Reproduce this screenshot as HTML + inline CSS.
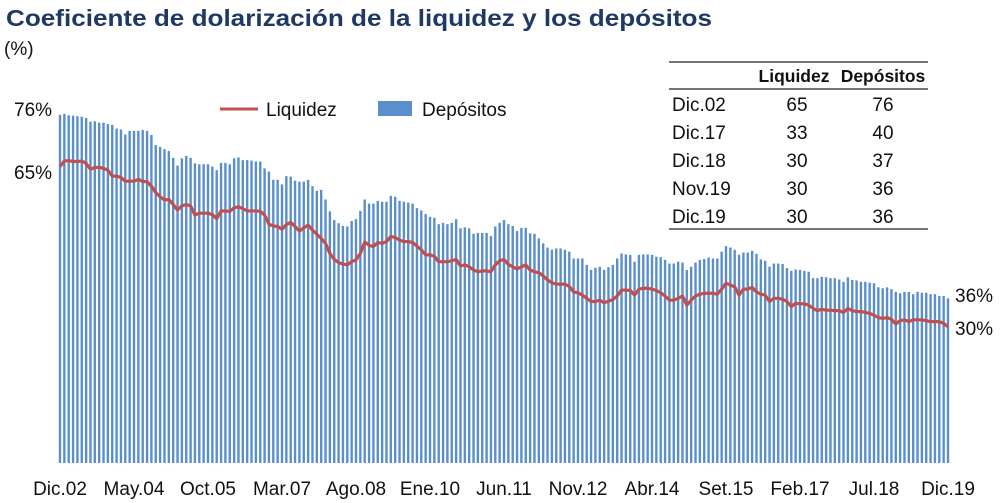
<!DOCTYPE html>
<html><head><meta charset="utf-8"><style>
body{margin:0;background:#fff;}
svg{display:block;font-family:"Liberation Sans",Arial,sans-serif;}
</style></head><body>
<svg id="chart" width="1001" height="503" viewBox="0 0 1001 503">
<text x="6" y="26" font-size="23" font-weight="bold" fill="#1f3864" textLength="706" lengthAdjust="spacingAndGlyphs">Coeficiente de dolarización de la liquidez y los depósitos</text>
<text x="4" y="55" font-size="19" fill="#111">(%)</text>
<g id="bars"></g>
<path id="liqLine" fill="none" stroke="#c0504d" stroke-width="3.2" stroke-linejoin="round"/>
<g id="xlabels"></g>
<text x="14" y="116" font-size="19" fill="#111">76%</text>
<text x="14" y="179" font-size="19" fill="#111">65%</text>
<text x="955" y="302" font-size="19" fill="#111">36%</text>
<text x="955" y="335" font-size="19" fill="#111">30%</text>
<g>
<line x1="220" y1="109" x2="258" y2="109" stroke="#c0504d" stroke-width="3"/>
<text x="266" y="116" font-size="19" fill="#111">Liquidez</text>
<rect x="378" y="101" width="34" height="15" fill="#5b8fcc"/>
<text x="422" y="116" font-size="19" fill="#111">Depósitos</text>
</g>
<g>
<rect x="666" y="60" width="266" height="172" fill="#fff"/>
<line x1="669" y1="62" x2="928" y2="62" stroke="#222" stroke-width="1.3"/>
<line x1="669" y1="89" x2="928" y2="89" stroke="#222" stroke-width="1.3"/>
<line x1="669" y1="229" x2="928" y2="229" stroke="#222" stroke-width="1.3"/>
<text x="794" y="82" font-size="17.5" font-weight="bold" text-anchor="middle" fill="#111">Liquidez</text>
<text x="883" y="82" font-size="17.5" font-weight="bold" text-anchor="middle" fill="#111">Depósitos</text>
<g id="trows" font-size="19" fill="#111"></g>
</g>
</svg>
<script>
const depositos=[76.1,76.3,76.0,75.9,75.8,75.7,75.4,74.6,74.7,74.4,
74.4,74.1,73.9,73.1,72.9,71.8,72.6,72.6,72.6,72.8,
72.6,71.7,69.5,69.1,68.6,68.2,66.7,65.0,66.6,67.1,
66.7,65.5,65.3,65.3,65.3,64.8,64.0,65.6,65.6,65.3,
66.6,66.8,66.2,66.2,66.1,65.9,65.9,64.4,63.7,61.9,
61.9,60.9,62.7,62.6,61.7,61.5,61.5,61.9,60.5,59.5,
59.7,57.6,55.0,53.1,52.4,51.8,51.7,52.9,53.3,55.1,
57.6,56.7,56.7,57.3,57.1,57.1,58.4,58.2,57.3,57.1,
56.9,56.7,55.7,55.2,54.4,53.8,53.6,52.2,52.5,52.2,
52.5,53.3,51.3,51.5,51.3,50.1,50.3,50.3,50.3,49.6,
51.7,52.5,53.1,52.2,51.8,50.7,51.4,51.4,50.2,50.1,
49.1,48.0,47.1,46.6,46.9,46.9,46.6,46.2,44.7,44.7,
44.7,43.3,42.2,42.7,42.9,42.2,42.8,43.3,44.7,
45.8,45.6,45.5,44.0,45.5,45.6,45.6,45.5,45.1,45.0,44.4,
43.6,43.6,44.0,43.8,42.2,42.9,43.8,44.4,44.6,44.9,
44.7,44.7,46.2,47.4,47.1,46.6,45.5,46.0,46.0,46.4,
45.7,44.5,44.2,42.9,43.6,43.6,43.5,42.6,42.0,42.3,
42.2,42.0,41.8,40.4,40.4,40.7,40.6,40.4,40.4,40.1,
39.6,40.6,40.0,39.9,39.6,39.6,39.4,39.3,38.4,38.2,
38.4,38.0,37.4,37.1,37.4,37.4,36.9,37.4,37.2,37.2,
36.9,36.9,36.5,36.5,36.0];
const liquidez=[64.8,66.0,66.1,65.9,65.9,66.0,65.5,64.2,64.6,64.6,
64.4,64.0,62.7,62.7,62.4,61.6,61.6,61.6,62.0,61.5,
61.5,60.5,59.1,58.2,57.5,57.6,56.5,55.3,56.2,56.5,
56.2,54.2,54.6,54.6,54.6,54.3,53.4,55.1,55.1,55.0,
55.8,56.0,55.6,55.1,55.1,55.1,55.0,54.2,52.2,51.8,
51.7,51.1,52.1,52.6,51.7,50.7,51.4,52.0,50.9,50.0,
49.1,48.0,45.8,44.5,43.8,43.5,43.3,44.0,44.4,45.8,
48.3,47.6,47.3,48.2,48.0,48.4,49.5,49.3,48.7,48.4,
48.4,48.2,47.4,46.6,45.5,45.5,45.2,44.0,44.0,44.0,
44.2,44.5,43.1,43.3,42.9,42.2,41.8,42.0,42.0,41.8,
43.3,44.2,44.5,43.4,42.9,42.4,42.9,43.3,42.2,41.8,
41.6,40.9,40.0,39.4,39.1,39.1,39.1,38.6,37.4,37.2,
36.7,36.0,35.3,35.3,35.6,35.0,35.4,35.7,36.5,
37.8,37.8,37.7,36.7,38.0,38.2,38.2,38.0,37.7,37.2,36.5,
35.6,35.6,36.0,36.5,34.5,35.6,36.5,36.9,37.1,37.1,
37.1,36.9,38.0,39.3,38.9,38.5,36.7,38.0,38.0,38.4,
37.4,36.9,36.7,35.3,36.0,36.0,35.8,35.3,34.2,34.9,
34.8,34.8,34.5,33.8,33.3,33.6,33.4,33.4,33.3,33.3,
32.9,33.8,33.3,33.1,33.1,32.9,32.7,32.3,31.8,31.6,
31.8,31.4,30.4,31.1,31.3,30.9,31.3,31.3,31.3,31.1,
30.9,30.9,30.9,30.5,29.8];
const tickLabels=["Dic.02","May.04","Oct.05","Mar.07","Ago.08","Ene.10","Jun.11","Nov.12","Abr.14","Set.15","Feb.17","Jul.18","Dic.19"];
const tickIndex=[0,17,34,51,68,85,102,119,136,153,170,187,204];
const tableRows=["Dic.02","Dic.17","Dic.18","Nov.19","Dic.19"];
const tableLiq=[65,33,30,30,30];
const tableDep=[76,40,37,36,36];

const NS="http://www.w3.org/2000/svg";
const x0=60, step=(948-60)/204, yBase=463, yScale=4.575;
function xPos(i){return x0+step*i;}
function yPos(v){return yBase-v*yScale;}

const bars=document.getElementById('bars');
depositos.forEach((v,i)=>{
  const r=document.createElementNS(NS,'rect');
  r.setAttribute('x',(xPos(i)-1.2).toFixed(2));
  r.setAttribute('y',yPos(v).toFixed(2));
  r.setAttribute('width','2.4');
  r.setAttribute('height',(yBase-yPos(v)).toFixed(2));
  r.setAttribute('fill','#5b8fcc');
  
  
  bars.appendChild(r);
});
document.getElementById('liqLine').setAttribute('d',liquidez.map((v,i)=>(i?'L':'M')+xPos(i).toFixed(2)+','+yPos(v).toFixed(2)).join(' '));

const xl=document.getElementById('xlabels');
tickLabels.forEach((t,k)=>{
  const e=document.createElementNS(NS,'text');
  e.setAttribute('x',xPos(tickIndex[k]).toFixed(1));
  e.setAttribute('y','495');
  e.setAttribute('font-size','19');
  e.setAttribute('text-anchor','middle');
  e.setAttribute('fill','#111');
  
  
  e.textContent=t;
  xl.appendChild(e);
});
const tr=document.getElementById('trows');
tableRows.forEach((t,k)=>{
  const y=111+k*28;
  [[672,t,'start'],[797,tableLiq[k],'middle'],[883,tableDep[k],'middle']].forEach(c=>{
    const e=document.createElementNS(NS,'text');
    e.setAttribute('x',c[0]);
    e.setAttribute('y',y);
    e.setAttribute('text-anchor',c[2]);
    
    
    e.textContent=c[1];
    tr.appendChild(e);
  });
});
</script>
</body></html>
